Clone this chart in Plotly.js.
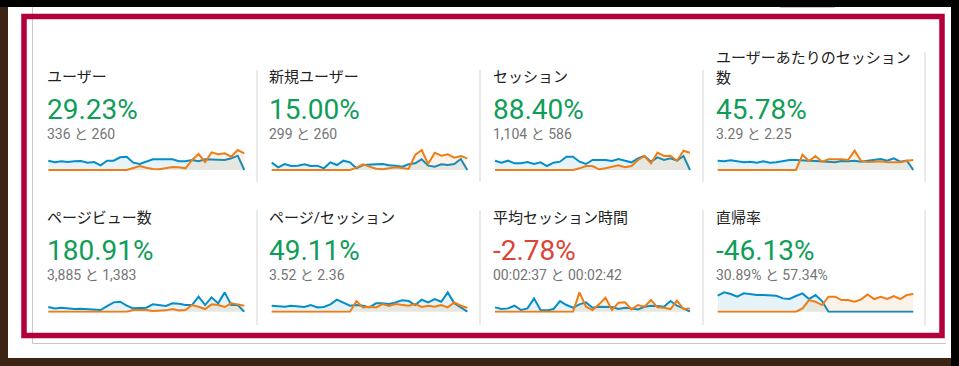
<!DOCTYPE html>
<html><head><meta charset="utf-8">
<script src="https://cdn.plot.ly/plotly-3.0.1.min.js"></script>
<style>html,body{margin:0;padding:0;background:#fff;overflow:hidden}#chart{width:959px;height:366px}</style>
</head><body><div id="chart"></div>
<script>
// ---- data ----
const dayIndex = [0,1,2,3,4,5,6,7,8,9,10,11,12,13,14,15,16,17,18,19,20,21,22,23,24,25,26,27,28,29,30];
const metricTitles = ["ユーザー","新規ユーザー","セッション","ユーザーあたりのセッション<br>数","ページビュー数","ページ/セッション","平均セッション時間","直帰率"];
const changeLabels = ["29.23%","15.00%","88.40%","45.78%","180.91%","49.11%","-2.78%","-46.13%"];
const changeGood = [true,true,true,true,true,true,false,true];
const compareLabels = ["336 と 260","299 と 260","1,104 と 586","3.29 と 2.25","3,885 と 1,383","3.52 と 2.36","00:02:37 と 00:02:42","30.89% と 57.34%"];

const usersCur = [28,23,26,24,26,27,22,24,14,28,28,38,40,22,18,26,32,32,32,32,26,26,30,26,32,32,32,30,35,43,0];
const usersPrev = [0,0,0,0,0,0,0,0,0,0,0,0,0,6,12,7,3,2,5,9,8,5,30,48,24,53,47,50,40,60,50];
const newUsersCur = [22,8,18,12,13,17,12,13,5,23,15,28,23,5,15,15,17,18,14,13,10,17,20,32,13,10,17,15,18,33,0];
const newUsersPrev = [0,0,0,0,0,0,0,0,0,0,0,0,0,7,17,10,4,2,5,8,6,3,45,60,18,52,43,47,37,42,35];
const sessionsCur = [28,22,28,20,20,24,18,23,12,22,25,40,40,25,18,30,30,30,27,33,28,23,35,42,25,38,30,35,28,42,0];
const sessionsPrev = [0,0,0,0,0,0,0,0,0,0,0,0,0,5,12,12,2,5,10,14,8,12,30,42,20,52,42,43,28,58,52];
const sessPerUserCur = [28,26,29,25,23,25,22,26,22,23,27,30,30,30,28,27,25,24,23,27,26,28,25,28,30,33,28,35,25,28,0];
const sessPerUserPrev = [0,0,0,0,0,0,0,0,0,0,0,0,0,46,27,42,25,32,33,32,30,58,27,24,25,26,23,22,23,28,30];
const pageviewsCur = [14,10,12,10,8,9,8,8,5,17,28,30,18,10,10,12,22,20,17,25,24,20,20,45,20,43,25,58,20,20,0];
const pageviewsPrev = [0,0,0,0,0,0,0,0,0,0,0,0,0,5,6,5,2,3,4,8,4,5,20,15,8,22,20,14,25,22,18];
const pagesPerSessCur = [18,17,15,18,15,14,20,13,14,22,36,26,18,20,18,13,25,25,23,28,34,32,20,36,28,38,30,58,25,13,0];
const pagesPerSessPrev = [0,0,0,0,0,0,0,0,0,0,0,0,0,32,13,15,13,23,17,23,20,18,23,14,18,15,20,13,28,18,12];
const avgDurationCur = [13,8,10,18,5,10,40,5,4,8,32,20,12,22,28,12,15,15,14,8,12,10,7,15,18,17,15,32,18,10,0];
const avgDurationPrev = [0,0,0,0,0,0,0,0,0,0,0,0,0,58,15,5,22,42,5,27,28,7,20,15,35,13,12,8,33,8,10];
const bounceCur = [48,58,53,45,55,52,50,50,50,48,40,38,47,55,38,50,32,0,0,0,0,0,0,0,0,0,0,2,0,0,0];
const bouncePrev = [0,0,0,0,0,0,0,0,0,0,0,0,0,10,35,30,20,45,45,35,35,30,37,52,38,45,38,47,38,50,53];

const seriesCur = [usersCur,newUsersCur,sessionsCur,sessPerUserCur,pageviewsCur,pagesPerSessCur,avgDurationCur,bounceCur];
const seriesPrev = [usersPrev,newUsersPrev,sessionsPrev,sessPerUserPrev,pageviewsPrev,pagesPerSessPrev,avgDurationPrev,bouncePrev];

// ---- layout geometry (pixels) ----
const W = 959, H = 366;
const px = x => x / W;
const py = y => 1 - y / H;
const sparkX = [[48.3,244.3],[271.7,467.3],[495,690],[717.7,913.3]];
const sparkBase = [170, 311.7];
const textX = [46, 268, 492, 715];
const titleY = [77, 218], numY = [109, 250], subY = [134, 275];
const FONT = "Roboto, 'Noto Sans CJK JP', sans-serif";
const BLUE = "#058dc7", ORANGE = "#ed7e17";

const data = [];
const layout = {
  width: W, height: H, margin: {l:0,r:0,t:0,b:0},
  paper_bgcolor: "#ffffff", plot_bgcolor: "rgba(0,0,0,0)",
  showlegend: false, annotations: [], shapes: [],
  font: {family: FONT}
};

for (let k = 0; k < 8; k++) {
  const col = k % 4, row = Math.floor(k / 4);
  const xa = k === 0 ? "x" : "x" + (k + 1);
  const ya = k === 0 ? "y" : "y" + (k + 1);
  const [x0, x1] = sparkX[col];
  const step = (x1 - x0) / 30;
  const base = sparkBase[row];
  layout[k === 0 ? "xaxis" : "xaxis" + (k + 1)] = {
    domain: [px(x0 - 0.4 * step), px(x1 + 0.4 * step)], range: [-0.4, 30.4],
    visible: false, fixedrange: true, anchor: ya
  };
  layout[k === 0 ? "yaxis" : "yaxis" + (k + 1)] = {
    domain: [py(base + 1), py(base - 22)], range: [-3, 66],
    visible: false, fixedrange: true, anchor: xa
  };
  data.push({x: dayIndex, y: seriesCur[k], xaxis: xa, yaxis: ya, type: "scatter", mode: "lines",
    fill: "tozeroy", fillcolor: "rgba(5,141,199,0.1)", line: {color: BLUE, width: 2}, hoverinfo: "skip"});
  data.push({x: dayIndex, y: seriesPrev[k], xaxis: xa, yaxis: ya, type: "scatter", mode: "lines",
    fill: "tozeroy", fillcolor: "rgba(237,126,23,0.1)", line: {color: ORANGE, width: 2}, hoverinfo: "skip"});

  const tx = px(textX[col]);
  const ann = (text, y, size, color) => layout.annotations.push({
    text, x: tx, y: py(y), xref: "paper", yref: "paper", xanchor: "left", yanchor: "middle",
    showarrow: false, align: "left", borderpad: 0, font: {family: FONT, size, color}
  });
  const t = metricTitles[k];
  ann(t, t.includes("<br>") ? titleY[row] - 9 : titleY[row], 15, "#222222");
  ann(changeLabels[k], numY[row], 28, changeGood[k] ? "#0f9d58" : "#db4437");
  ann(compareLabels[k], subY[row], 14, "#757575");
}

// separators
const sepX = [257, 480, 703, 925];
const line = (x0, y0, x1, y1, color, w) => layout.shapes.push({type: "line", xref: "paper", yref: "paper",
  x0: px(x0), y0: py(y0), x1: px(x1), y1: py(y1), line: {color, width: w}});
const rect = (x0, y0, x1, y1, fill) => layout.shapes.push({type: "rect", xref: "paper", yref: "paper",
  x0: px(x0), y0: py(y0), x1: px(x1), y1: py(y1), fillcolor: fill, line: {width: 0}});
sepX.forEach((x, i) => {
  line(x, i === 3 ? 52 : 70, x, 182, "#d5d5d5", 1);
  line(x, 210, x, 325, "#d5d5d5", 1);
});
// panel border
line(32.5, 7, 32.5, 343.5, "#c8c8c8", 1);
line(32.5, 343.5, 946, 343.5, "#c8c8c8", 1);
line(780, 7.5, 835, 7.5, "#c8c8c8", 1);
// outer frame
rect(0, 0, W, 7, "#000000");
rect(0, 7, 8, H, "#3c2415");
rect(0, 358, 952, H, "#3c2415");
rect(951, 0, W, H, "#000000");
// crimson frame
layout.shapes.push({type: "rect", xref: "paper", yref: "paper",
  x0: px(24), y0: py(16.5), x1: px(942), y1: py(335.5), fillcolor: "rgba(0,0,0,0)",
  line: {color: "#b1003b", width: 5.5}});

Plotly.newPlot("chart", data, layout, {staticPlot: true, displayModeBar: false});
</script>
</body></html>
